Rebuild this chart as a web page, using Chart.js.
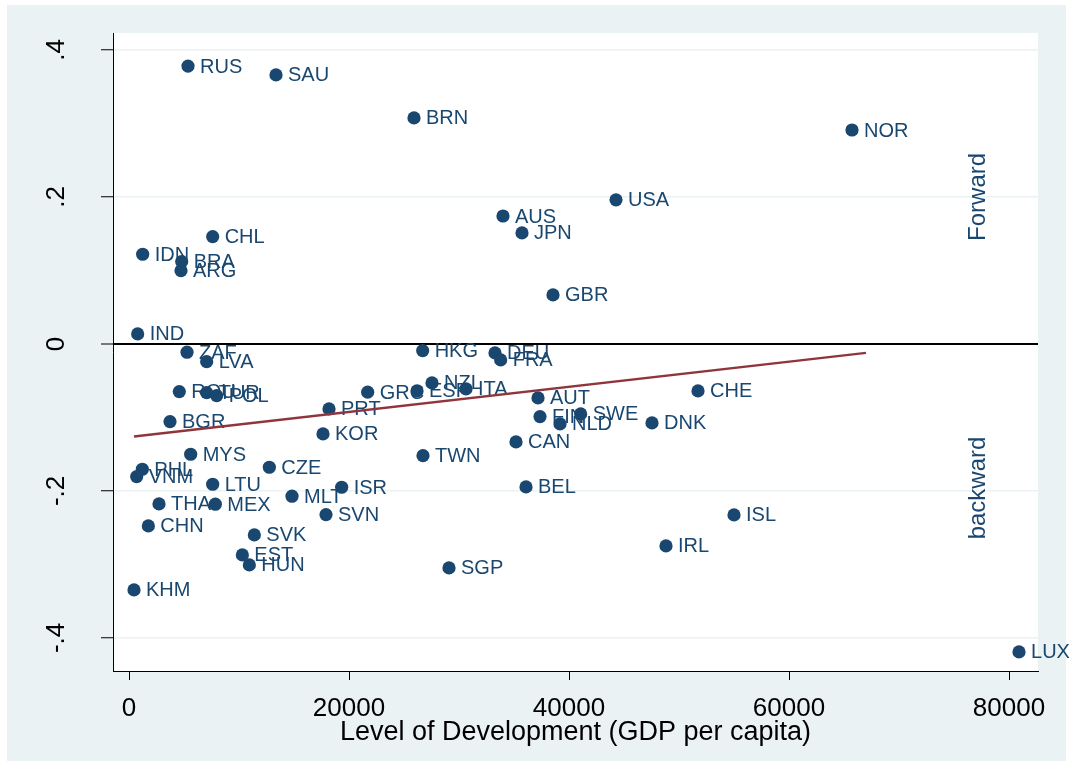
<!DOCTYPE html>
<html>
<head>
<meta charset="utf-8">
<script src="https://cdn.jsdelivr.net/npm/chart.js@4.4.1/dist/chart.umd.min.js"></script>
<style>
  html, body { margin: 0; padding: 0; background: #ffffff; }
  #wrap { width: 1071px; height: 771px; }
</style>
</head>
<body>
<div id="wrap"><canvas id="chart" width="1071" height="771"></canvas></div>
<script>
// Country codes, GDP per capita and GVC position (forward minus backward)
const countries = ['RUS','SAU','BRN','NOR','USA','AUS','JPN','CHL','IDN','BRA','ARG','GBR','IND',
  'ZAF','LVA','HKG','DEU','FRA','NZL','ESP','ITA','GRC','PRT','KOR','TWN','CAN','AUT','FIN','SWE',
  'NLD','DNK','CHE','ROU','TUR','POL','BGR','MYS','PHL','VNM','CZE','LTU','THA','MEX','MLT','ISR',
  'SVN','CHN','SVK','EST','HUN','KHM','BEL','SGP','IRL','ISL','LUX'];
const gdpPerCapita = [5364,13364,25909,65727,44273,34000,35727,7606,1242,4788,4727,38545,788,
  5273,7061,26697,33273,33788,27545,26182,30636,21697,18182,17636,26727,35182,37182,37364,41061,
  39182,47545,51727,4573,7061,7970,3727,5606,1212,697,12758,7606,2727,7848,14818,19333,
  17909,1758,11394,10303,10939,455,36091,29091,48818,55000,80909];
const gvcPosition = [0.378,0.366,0.3075,0.291,0.196,0.174,0.151,0.146,0.122,0.112,0.0997,0.0667,0.0136,
  -0.0113,-0.0241,-0.0091,-0.0122,-0.0218,-0.0531,-0.0639,-0.0612,-0.0657,-0.0884,-0.1224,-0.152,-0.1333,-0.0735,-0.0989,-0.0952,
  -0.1088,-0.1075,-0.0639,-0.0649,-0.0662,-0.0703,-0.1057,-0.1501,-0.1705,-0.1805,-0.1678,-0.1909,-0.2177,-0.2181,-0.2072,-0.195,
  -0.2322,-0.2476,-0.2599,-0.2871,-0.3007,-0.3347,-0.1946,-0.3048,-0.2748,-0.2327,-0.419];

// Linear fit end points
const fitX = [455, 67000];
const fitY = [-0.126, -0.0122];

// Axis ticks
const xTicks = [0, 20000, 40000, 60000, 80000];
const yTicks = [-0.4, -0.2, 0, 0.2, 0.4];

// Side notes
const notes = [
  { text: 'Forward', x: 77200, y: 0.2 },
  { text: 'backward', x: 77200, y: -0.196 }
];

const NAVY = '#1A476F';
const MAROON = '#90353B';
const BG = '#EAF2F3';

Chart.defaults.font.family = "'Liberation Sans', Arial, sans-serif";

const fmtY = v => {
  if (Math.abs(v) < 1e-9) return '0';
  const s = String(Math.round(v * 10) / 10);
  return s.replace('0.', '.');
};

const background = {
  id: 'background',
  beforeDraw(chart) {
    const { ctx, chartArea: a } = chart;
    ctx.save();
    ctx.fillStyle = '#ffffff';
    ctx.fillRect(0, 0, chart.width, chart.height);
    ctx.fillStyle = BG;
    ctx.fillRect(7, 5, 1059, 756);
    ctx.fillStyle = '#ffffff';
    ctx.fillRect(a.left, a.top, a.right - a.left, a.bottom - a.top);
    ctx.restore();
  }
};

const pointLabels = {
  id: 'pointLabels',
  afterDatasetDraw(chart, args) {
    if (args.index !== 0) return;
    const { ctx } = chart;
    ctx.save();
    ctx.font = "20px 'Liberation Sans', Arial, sans-serif";
    ctx.fillStyle = NAVY;
    ctx.textAlign = 'left';
    ctx.textBaseline = 'middle';
    args.meta.data.forEach((el, i) => {
      ctx.fillText(countries[i], el.x + 12, el.y + 1);
    });
    ctx.restore();
  }
};

const sideNotes = {
  id: 'sideNotes',
  afterDatasetsDraw(chart) {
    const { ctx, scales } = chart;
    ctx.save();
    ctx.font = "24px 'Liberation Sans', Arial, sans-serif";
    ctx.fillStyle = NAVY;
    ctx.textAlign = 'center';
    ctx.textBaseline = 'middle';
    notes.forEach(n => {
      const px = scales.x.getPixelForValue(n.x);
      const py = scales.y.getPixelForValue(n.y);
      ctx.save();
      ctx.translate(px, py);
      ctx.rotate(-Math.PI / 2);
      ctx.fillText(n.text, 0, 0);
      ctx.restore();
    });
    ctx.restore();
  }
};

new Chart(document.getElementById('chart'), {
  type: 'scatter',
  data: {
    datasets: [
      {
        label: 'GVC position',
        data: countries.map((c, i) => ({ x: gdpPerCapita[i], y: gvcPosition[i] })),
        pointRadius: 6.6,
        pointHoverRadius: 6.6,
        pointBackgroundColor: NAVY,
        pointBorderWidth: 0,
        borderColor: NAVY,
        order: 2,
        clip: false
      },
      {
        type: 'line',
        label: 'Fitted values',
        data: fitX.map((x, i) => ({ x, y: fitY[i] })),
        borderColor: MAROON,
        borderWidth: 2.5,
        pointRadius: 0,
        fill: false,
        order: 1
      }
    ]
  },
  options: {
    responsive: false,
    animation: false,
    devicePixelRatio: 1,
    layout: { padding: { left: 0, right: 33, top: 33, bottom: 0 } },
    plugins: { legend: { display: false }, tooltip: { enabled: false } },
    scales: {
      x: {
        type: 'linear',
        min: -1455,
        max: 82636,
        afterBuildTicks: s => { s.ticks = xTicks.map(v => ({ value: v })); },
        afterFit: s => { s.height = 100; s.paddingLeft = 0; s.paddingRight = 0; },
        ticks: {
          callback: v => String(v),
          color: '#000',
          font: { size: 26 },
          padding: 13,
          maxRotation: 0,
          autoSkip: false
        },
        grid: { drawOnChartArea: false, tickLength: 9, tickColor: '#000', tickWidth: 1 },
        border: { color: '#000', width: 1 },
        title: {
          display: true,
          text: 'Level of Development (GDP per capita)',
          color: '#000',
          font: { size: 27 },
          padding: { top: 0, bottom: 22 }
        }
      },
      y: {
        type: 'linear',
        min: -0.445,
        max: 0.423,
        afterBuildTicks: s => { s.ticks = yTicks.map(v => ({ value: v })); },
        afterFit: s => { s.width = 113; s.paddingTop = 0; s.paddingBottom = 0; },
        ticks: {
          callback: v => fmtY(v),
          color: '#000',
          font: { size: 26 },
          minRotation: 90,
          maxRotation: 90,
          crossAlign: 'center',
          padding: 29,
          autoSkip: false
        },
        grid: {
          color: c => (c.tick && Math.abs(c.tick.value) < 1e-9) ? '#000' : BG,
          lineWidth: c => (c.tick && Math.abs(c.tick.value) < 1e-9) ? 2 : 1.5,
          tickLength: 12,
          tickColor: '#000',
          tickWidth: 1
        },
        border: { color: '#000', width: 1 }
      }
    }
  },
  plugins: [background, pointLabels, sideNotes]
});
</script>
</body>
</html>
